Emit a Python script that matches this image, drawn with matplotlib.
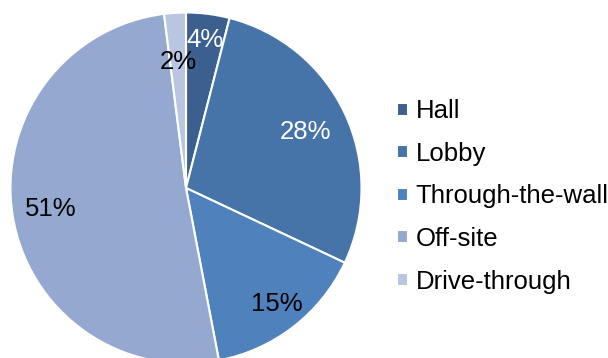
import numpy as np
import matplotlib.pyplot as plt

plt.rcParams['font.family'] = ['Liberation Sans', 'DejaVu Sans']

labels = ['Hall', 'Lobby', 'Through-the-wall', 'Off-site', 'Drive-through']
shares = [4, 28, 15, 51, 2]
colors = ['#3b5f8e', '#4673a8', '#4f81bd', '#95a9d0', '#b9c6e1']
text_colors = ['white', 'white', 'black', 'black', 'black']
label_dist = [0.85, 0.75, 0.84, 0.78, 0.72]

fig = plt.figure(figsize=(6.08, 3.58), dpi=100)
# pie box in pixels: x 10.5..361.5, y 12.5..363.5 (from top)
ax = fig.add_axes([10.5 / 608, (358 - 363.5) / 358, 351 / 608, 351 / 358])
wedges, texts = ax.pie(shares, colors=colors, startangle=90, counterclock=False,
                       radius=1, wedgeprops=dict(edgecolor='white', linewidth=1.5))
ax.set_xlim(-1, 1)
ax.set_ylim(-1, 1)
ax.axis('off')

for w, s, c, d in zip(wedges, shares, text_colors, label_dist):
    ang = np.deg2rad((w.theta1 + w.theta2) / 2)
    ax.text(d * np.cos(ang), d * np.sin(ang), f'{s}%', color=c, fontsize=18.5,
            ha='center', va='center')

fig.legend(wedges, labels, loc='center left', bbox_to_anchor=(397 / 608, 1 - 196.5 / 358),
           frameon=False, fontsize=18.5, handlelength=0.42, handleheight=0.42,
           handletextpad=0.3, labelspacing=0.72, borderpad=0, borderaxespad=0)

fig.savefig('out.png', dpi=100)
